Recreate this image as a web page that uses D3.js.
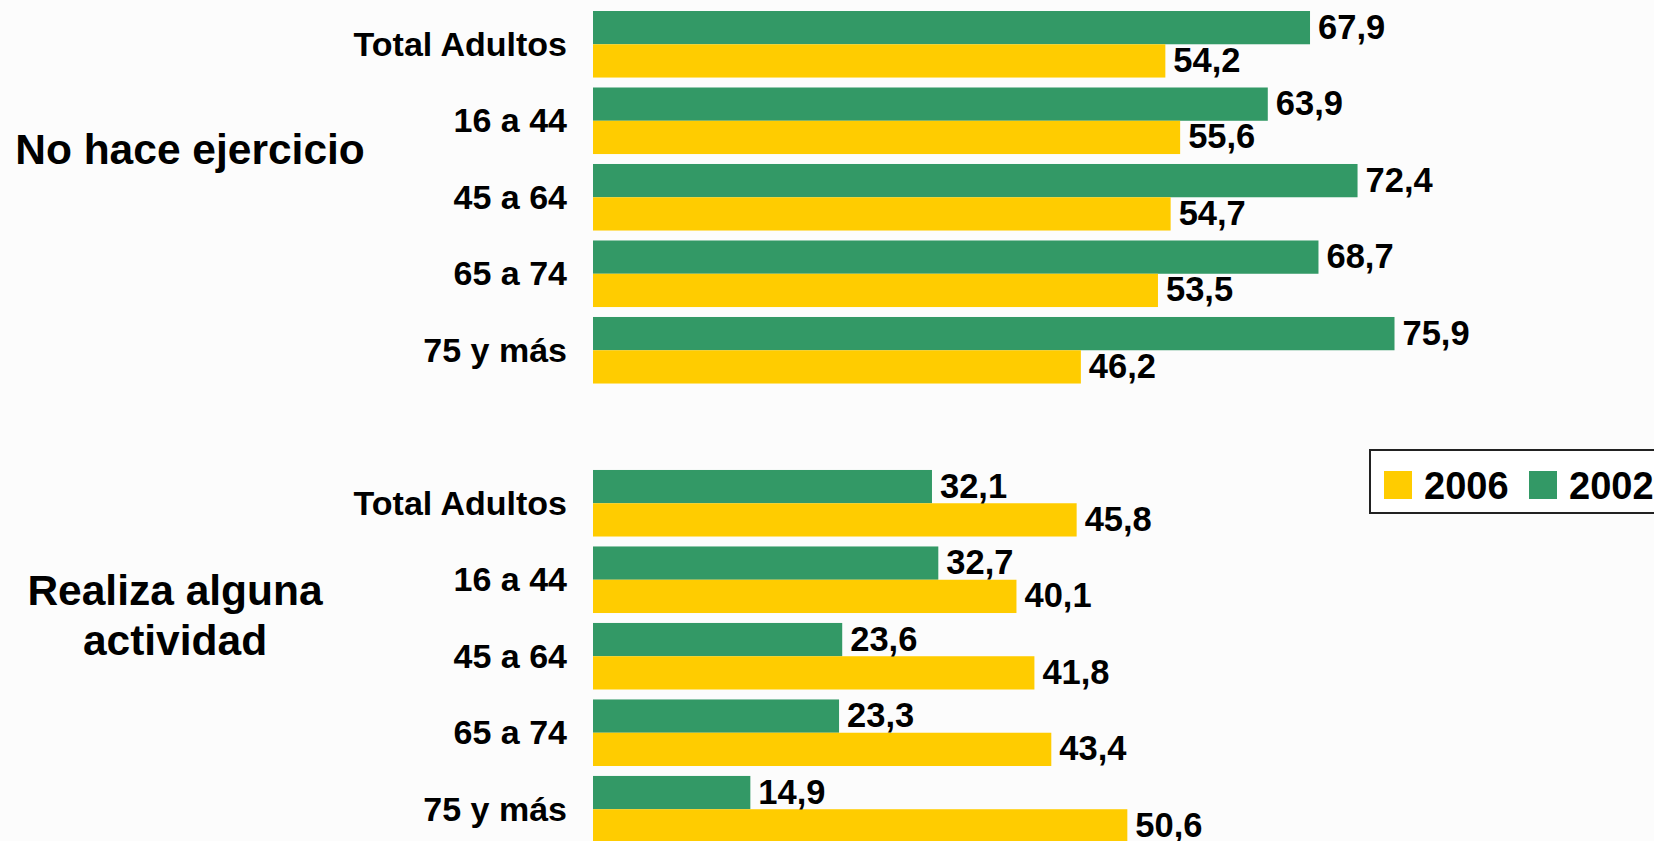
<!DOCTYPE html>
<html>
<head>
<meta charset="utf-8">
<script src="https://cdn.jsdelivr.net/npm/d3@7"></script>
<style>
  body { margin: 0; background: #fcfcfc; }
  text { font-family: Arial, "Liberation Sans", sans-serif; font-weight: bold; fill: #000; }
</style>
</head>
<body>
<div id="chart"></div>
<script>
// data
var categories = ["Total Adultos", "16 a 44", "45 a 64", "65 a 74", "75 y más"];
var groups = ["No hace ejercicio", "Realiza alguna actividad"];
var years = ["2002", "2006"];
var noEjercicio2002 = [67.9, 63.9, 72.4, 68.7, 75.9];
var noEjercicio2006 = [54.2, 55.6, 54.7, 53.5, 46.2];
var actividad2002 = [32.1, 32.7, 23.6, 23.3, 14.9];
var actividad2006 = [45.8, 40.1, 41.8, 43.4, 50.6];

var width = 1654, height = 841;

var colors = {"2002": "#339966", "2006": "#ffcc00"};

// rows: 5 + spacer + 5
var rows = [];
categories.forEach(function(c, i) {
  rows.push({key: "a" + i, label: c, group: 0, values: {"2002": noEjercicio2002[i], "2006": noEjercicio2006[i]}});
});
rows.push({key: "gap", label: null});
categories.forEach(function(c, i) {
  rows.push({key: "b" + i, label: c, group: 1, values: {"2002": actividad2002[i], "2006": actividad2006[i]}});
});

var svg = d3.select("#chart").append("svg")
    .attr("width", width)
    .attr("height", height);

var x = d3.scaleLinear().domain([0, 100]).range([593, 1649]);

var y = d3.scaleBand()
    .domain(rows.map(function(d) { return d.key; }))
    .range([11, 842.5])
    .paddingInner(0.13)
    .paddingOuter(0);

var ySub = d3.scaleBand().domain(years).range([0, y.bandwidth()]);

var fmt = function(v) { return v.toFixed(1).replace(".", ","); };

var dataRows = rows.filter(function(d) { return d.label; });

var row = svg.selectAll(".row")
    .data(dataRows)
  .enter().append("g")
    .attr("class", "row")
    .attr("transform", function(d) { return "translate(0," + y(d.key) + ")"; });

// category labels
row.append("text")
    .attr("x", 567)
    .attr("y", y.bandwidth() / 2)
    .attr("dy", "0.34em")
    .style("text-anchor", "end")
    .style("font-size", "34px")
    .text(function(d) { return d.label; });

var bars = row.selectAll(".bar")
    .data(function(d) { return years.map(function(k) { return {year: k, value: d.values[k]}; }); })
  .enter();

bars.append("rect")
    .attr("class", "bar")
    .attr("x", x(0))
    .attr("y", function(d) { return ySub(d.year); })
    .attr("width", function(d) { return x(d.value) - x(0); })
    .attr("height", ySub.bandwidth())
    .style("fill", function(d) { return colors[d.year]; });

bars.append("text")
    .attr("x", function(d) { return x(d.value) + 8; })
    .attr("y", function(d) { return ySub(d.year) + ySub.bandwidth() / 2; })
    .attr("dy", "0.32em")
    .style("font-size", "34.5px")
    .text(function(d) { return fmt(d.value); });

// group labels
svg.append("text")
    .attr("x", 190)
    .attr("y", 164)
    .style("text-anchor", "middle")
    .style("font-size", "42.5px")
    .text(groups[0]);

svg.append("text")
    .attr("x", 175)
    .attr("y", 605)
    .style("text-anchor", "middle")
    .style("font-size", "42.5px")
    .selectAll("tspan")
    .data(["Realiza alguna", "actividad"])
  .enter().append("tspan")
    .attr("x", 175)
    .attr("dy", function(d, i) { return i ? 50 : 0; })
    .text(function(d) { return d; });

// legend
var legend = svg.append("g").attr("transform", "translate(1370,450)");
legend.append("rect")
    .attr("width", 330)
    .attr("height", 63)
    .style("fill", "#fff")
    .style("stroke", "#222")
    .style("stroke-width", 2);

var item = legend.selectAll(".item")
    .data(["2006", "2002"])
  .enter().append("g")
    .attr("class", "item")
    .attr("transform", function(d, i) { return "translate(" + (14 + i * 145) + ",21)"; });
item.append("rect")
    .attr("width", 28)
    .attr("height", 28)
    .style("fill", function(d) { return colors[d]; });
item.append("text")
    .attr("x", 40)
    .attr("y", 28)
    .style("font-size", "38px")
    .text(function(d) { return d; });
</script>
</body>
</html>
